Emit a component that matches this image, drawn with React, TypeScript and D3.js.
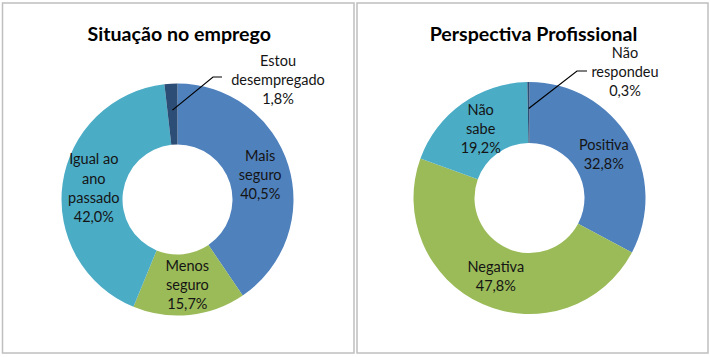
import React from "react";
import * as d3 from "d3";

const leftTitle = "Situação no emprego";
const leftCategories = ["Mais\nseguro", "Menos\nseguro", "Igual ao\nano\npassado", "Estou\ndesempregado"];
const leftValues = [40.5, 15.7, 42.0, 1.8];

const rightTitle = "Perspectiva Profissional";
const rightCategories = ["Positiva", "Negativa", "Não\nsabe", "Não\nrespondeu"];
const rightValues = [32.8, 47.8, 19.2, 0.3];

const colors = ["#4F81BD", "#9BBB59", "#4BACC6", "#2C4D75"];

const W = 710;
const H = 357;
const FONT = "Lato, 'Open Sans', sans-serif";

type PanelProps = {
  x0: number;
  x1: number;
  cx: number;
  cy: number;
  title: string;
  categories: string[];
  values: number[];
  outside: { x: number; y: number; elbow: [number, number]; end: [number, number] };
};

const fmt = (v: number) => v.toFixed(1).replace(".", ",") + "%";

function Panel({ x0, x1, cx, cy, title, categories, values, outside }: PanelProps) {
  const rIn = 55;
  const rOut = 116;
  const pie = d3.pie<number>().sort(null).value((d) => d)(values);
  const arc = d3.arc<d3.PieArcDatum<number>>().innerRadius(rIn).outerRadius(rOut);
  const lh = 19.3;
  const last = pie.length - 1;
  const midR = (rIn + rOut) / 2 + 4;
  const lp = pie[last];
  const mid = (lp.startAngle + lp.endAngle) / 2;
  const sx = cx + midR * Math.sin(mid);
  const sy = cy - midR * Math.cos(mid);
  return (
    <g>
      <rect x={x0} y={3} width={x1 - x0} height={350} fill="#fff" stroke="#BFBFBF" strokeWidth={1.5} />
      <text x={(x0 + x1) / 2 + 1} y={33} textAnchor="middle" dominantBaseline="central" fontFamily={FONT} fontWeight="bold" fontSize={19.6} fill="#000">
        {title}
      </text>
      <g transform={`translate(${cx},${cy})`}>
        {pie.map((p, i) => (
          <path key={i} d={arc(p) || ""} fill={colors[i]} />
        ))}
      </g>
      {pie.map((p, i) => {
        if (i === last) return null;
        const [px, py] = arc.centroid(p);
        const lines = [...categories[i].split("\n"), fmt(values[i])];
        const y0 = cy + py - ((lines.length - 1) * lh) / 2;
        return (
          <text key={i} textAnchor="middle" fontFamily={FONT} fontSize={14.5} fill="#141414">
            {lines.map((l, j) => (
              <tspan key={j} x={cx + px + 1} y={y0 + j * lh} dominantBaseline="central">
                {l}
              </tspan>
            ))}
          </text>
        );
      })}
      <polyline
        points={`${sx},${sy} ${outside.elbow[0]},${outside.elbow[1]} ${outside.end[0]},${outside.end[1]}`}
        fill="none"
        stroke="#000"
        strokeWidth={1.2}
      />
      <text textAnchor="middle" fontFamily={FONT} fontSize={14.5} fill="#141414">
        {[...categories[last].split("\n"), fmt(values[last])].map((l, j) => (
          <tspan key={j} x={outside.x} y={outside.y + j * 19} dominantBaseline="central">
            {l}
          </tspan>
        ))}
      </text>
    </g>
  );
}

export default function App() {
  return (
    <div style={{ position: "absolute", left: 0, top: 0 }}>
      <svg width={W} height={H} style={{ display: "block", background: "#fff" }}>
        <Panel
          x0={2.5}
          x1={354}
          cx={177.5}
          cy={199.5}
          title={leftTitle}
          categories={leftCategories}
          values={leftValues}
          outside={{ x: 278, y: 60, elbow: [213, 77], end: [222, 77] }}
        />
        <Panel
          x0={357}
          x1={708}
          cx={529.5}
          cy={198}
          title={rightTitle}
          categories={rightCategories}
          values={rightValues}
          outside={{ x: 625, y: 52, elbow: [577, 71], end: [587, 71] }}
        />
      </svg>
    </div>
  );
}
